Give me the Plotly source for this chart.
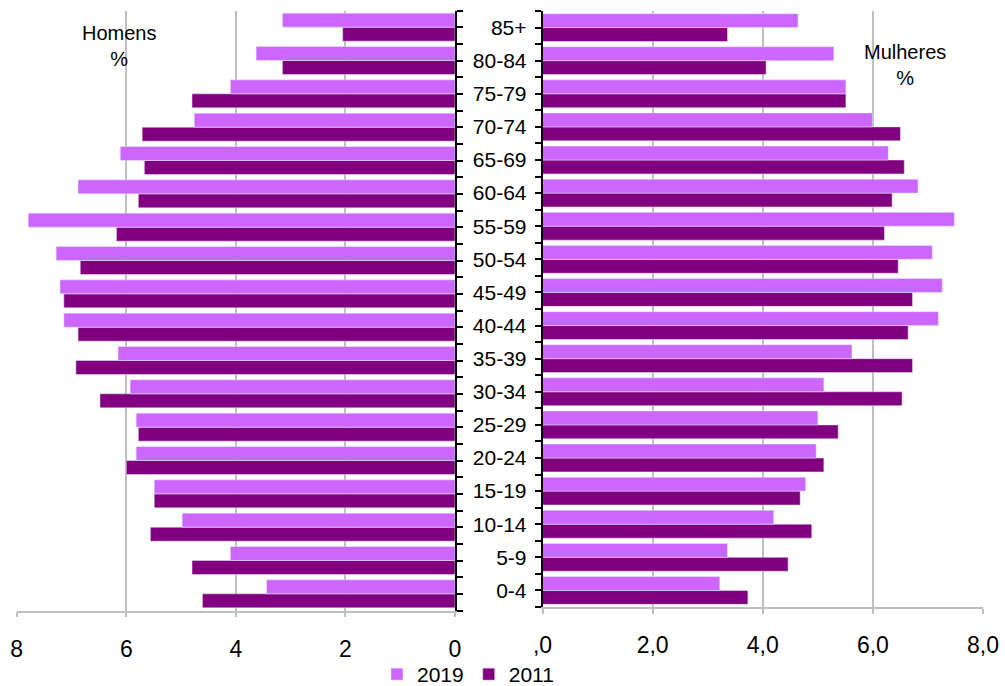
import plotly.graph_objects as go

# Age groups, youngest first (bottom of the pyramid)
ages = ["0-4", "5-9", "10-14", "15-19", "20-24", "25-29", "30-34", "35-39",
        "40-44", "45-49", "50-54", "55-59", "60-64", "65-69", "70-74",
        "75-79", "80-84", "85+"]

# Share of population (%) by sex and census year
men_2019 = [3.44, 4.10, 4.98, 5.49, 5.82, 5.82, 5.93, 6.15, 7.14, 7.21,
            7.28, 7.79, 6.88, 6.11, 4.76, 4.10, 3.63, 3.15]
men_2011 = [4.61, 4.80, 5.56, 5.49, 6.00, 5.78, 6.48, 6.92, 6.88, 7.14,
            6.84, 6.18, 5.78, 5.67, 5.71, 4.80, 3.15, 2.05]
women_2019 = [3.22, 3.36, 4.20, 4.78, 4.97, 5.00, 5.11, 5.62, 7.19, 7.26,
              7.08, 7.48, 6.82, 6.28, 5.99, 5.51, 5.29, 4.64]
women_2011 = [3.73, 4.46, 4.89, 4.68, 5.11, 5.37, 6.53, 6.72, 6.64, 6.72,
              6.46, 6.21, 6.35, 6.57, 6.50, 5.51, 4.06, 3.36]

left_ticks = [8, 6, 4, 2, 0]
left_ticktext = ["8", "6", "4", "2", "0"]
right_ticks = [0, 2, 4, 6, 8]
right_ticktext = [",0", "2,0", "4,0", "6,0", "8,0"]

C2019 = "#CC66FF"
C2011 = "#800080"
FONT = "Liberation Sans, Arial, sans-serif"
GRID = "#BFBFBF"

ypos = list(range(len(ages)))

fig = go.Figure()

# Within each age group the first trace sits lower, so 2011 goes first
fig.add_trace(go.Bar(y=ypos, x=men_2011, orientation="h", name="2011",
                     marker_color=C2011, xaxis="x", yaxis="y",
                     legendgroup="2011", legendrank=2))
fig.add_trace(go.Bar(y=ypos, x=men_2019, orientation="h", name="2019",
                     marker_color=C2019, xaxis="x", yaxis="y",
                     legendgroup="2019", legendrank=1))
fig.add_trace(go.Bar(y=ypos, x=women_2011, orientation="h", name="2011",
                     marker_color=C2011, xaxis="x2", yaxis="y2",
                     legendgroup="2011", showlegend=False))
fig.add_trace(go.Bar(y=ypos, x=women_2019, orientation="h", name="2019",
                     marker_color=C2019, xaxis="x2", yaxis="y2",
                     legendgroup="2019", showlegend=False))

W, H = 1005, 686


def px_x(p):
    return p / W


def px_y(p):
    return 1 - p / H


tickfont = dict(family=FONT, size=23, color="black")
yrange = [-0.5, len(ages) - 0.5]
boundaries = [i - 0.5 for i in range(len(ages) + 1)]

common_x = dict(showgrid=True, gridcolor=GRID, gridwidth=1.5, zeroline=False,
                showline=True, linecolor=GRID, linewidth=1.5,
                ticks="outside", ticklen=5, tickcolor=GRID, tickwidth=1.5,
                tickfont=tickfont, tickmode="array", fixedrange=True,
                ticklabelstandoff=12)

fig.update_layout(
    width=W, height=H,
    margin=dict(l=0, r=0, t=0, b=0, autoexpand=False),
    paper_bgcolor="white", plot_bgcolor="white",
    barmode="group", bargap=0.16, bargroupgap=0,
    font=dict(family=FONT, color="black"),
    xaxis=dict(domain=[px_x(16.7), px_x(455)], range=[8, 0], anchor="y",
               tickvals=left_ticks, ticktext=left_ticktext, **common_x),
    xaxis2=dict(domain=[px_x(542.5), px_x(983)], range=[0, 8], anchor="y2",
                tickvals=right_ticks, ticktext=right_ticktext, **common_x),
    yaxis=dict(domain=[px_y(610.5), px_y(10.5)], range=yrange, anchor="x",
               side="right", showline=True, linecolor="black", linewidth=1.5,
               showgrid=False, zeroline=False, showticklabels=False,
               ticks="outside", ticklen=6, tickcolor="black", tickwidth=1.5,
               tickmode="array", tickvals=ypos,
               minor=dict(tickmode="array", tickvals=boundaries, ticks="outside",
                          ticklen=6, tickcolor="black", tickwidth=1.5),
               fixedrange=True),
    yaxis2=dict(domain=[px_y(607), px_y(11)], range=yrange, anchor="x2",
                side="left", showline=True, linecolor="black", linewidth=1.5,
                showgrid=False, zeroline=False,
                ticks="outside", ticklen=6, tickcolor="black", tickwidth=1.5,
                tickmode="array", tickvals=ypos, ticktext=ages,
                tickfont=dict(family=FONT, size=21, color="black"),
                ticklabelstandoff=4,
                minor=dict(tickmode="array", tickvals=boundaries, ticks="outside",
                           ticklen=6, tickcolor="black", tickwidth=1.5),
                fixedrange=True),
    legend=dict(orientation="h", x=px_x(468), y=px_y(674.5),
                xanchor="center", yanchor="middle",
                font=dict(family=FONT, size=21, color="black"),
                bgcolor="rgba(0,0,0,0)", itemclick=False, itemdoubleclick=False),
    annotations=[
        dict(text="Homens<br>%", x=px_x(119), y=px_y(46), xref="paper",
             yref="paper", showarrow=False, xanchor="center", yanchor="middle",
             font=dict(family=FONT, size=20, color="black")),
        dict(text="Mulheres<br>%", x=px_x(905), y=px_y(65), xref="paper",
             yref="paper", showarrow=False, xanchor="center", yanchor="middle",
             font=dict(family=FONT, size=20, color="black")),
    ],
)

fig.write_html("out.html")
